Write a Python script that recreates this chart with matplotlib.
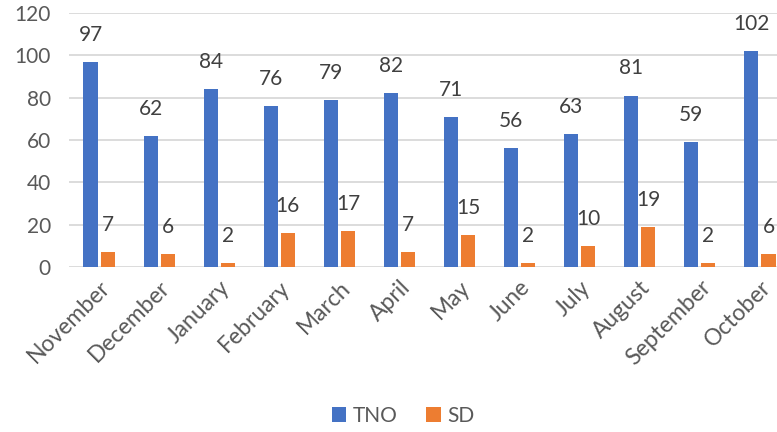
import numpy as np
import matplotlib
matplotlib.use("Agg")
import matplotlib.pyplot as plt

plt.rcParams['font.family'] = ['Lato', 'DejaVu Sans']

months = ['November', 'December', 'January', 'February', 'March', 'April',
          'May', 'June', 'July', 'August', 'September', 'October']
tno = [97, 62, 84, 76, 79, 82, 71, 56, 63, 81, 59, 102]
sd = [7, 6, 2, 16, 17, 7, 15, 2, 10, 19, 2, 6]
yticks = [0, 20, 40, 60, 80, 100, 120]

blue = '#4472C4'
orange = '#ED7D31'
grey = '#595959'

fig = plt.figure(figsize=(7.77, 4.32), dpi=100)
# plot area runs off the right edge like in the original
ax = fig.add_axes([69 / 777, 1 - 267 / 432, 721 / 777, 254 / 432])

x = np.arange(len(months))
w = 0.235
b1 = ax.bar(x - 0.142, tno, w, color=blue, label='TNO', zorder=3)
b2 = ax.bar(x + 0.142, sd, w, color=orange, label='SD', zorder=3)

for bars in (b1, b2):
    for r in bars:
        ax.annotate(str(int(r.get_height())),
                    (r.get_x() + r.get_width() / 2, r.get_height()),
                    xytext=(0, 19.5), textcoords='offset points',
                    ha='center', va='center', fontsize=15, color='#404040')

ax.set_xlim(-0.5, len(months) - 0.5)
ax.set_ylim(0, 120)
ax.set_yticks(yticks)
ax.set_yticklabels([str(t) for t in yticks])
ax.set_xticks(x)
ax.set_xticklabels(months, rotation=45, ha='right', va='top',
                   rotation_mode='anchor')
ax.tick_params(axis='both', length=0, labelcolor=grey)
ax.tick_params(axis='y', pad=13, labelsize=15)
ax.tick_params(axis='x', pad=7, labelsize=16.5)
ax.grid(axis='y', color='#D9D9D9', linewidth=1.3, zorder=0)
for s in ax.spines.values():
    s.set_visible(False)

fig.legend(handles=[b1, b2], labels=['TNO', 'SD'], loc='center',
           bbox_to_anchor=(403 / 777, 1 - 416 / 432), ncol=2, frameon=False,
           fontsize=15, labelcolor=grey, handlelength=0.7, handleheight=0.7,
           handletextpad=0.3, columnspacing=1.4)

fig.savefig('out.png', dpi=100)
